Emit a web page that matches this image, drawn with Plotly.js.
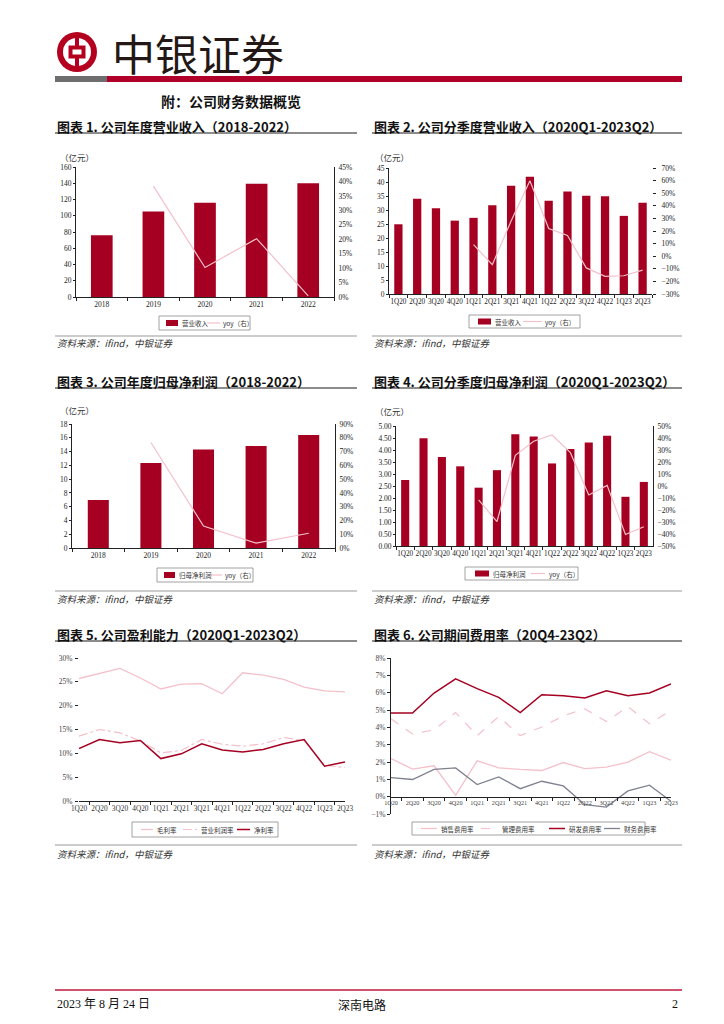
<!DOCTYPE html>
<html><head><meta charset="utf-8">
<script src="https://cdn.plot.ly/plotly-3.0.1.min.js"></script>
<style>html,body{margin:0;padding:0;background:#fff}#page{width:724px;height:1024px}</style>
</head><body><div id="page"></div>
<script>
// ---------- DATA ----------
const years = ['2018', '2019', '2020', '2021', '2022'];
const annualRevenue = [76.0, 105.2, 116.0, 139.4, 139.9];
const annualRevenueYoY = [null, 38.4, 10.2, 20.2, 0.4];
const annualProfit = [6.98, 12.33, 14.30, 14.81, 16.40];
const annualProfitYoY = [null, 76.6, 16.0, 3.6, 10.7];

const quarters = ['1Q20','2Q20','3Q20','4Q20','1Q21','2Q21','3Q21','4Q21','1Q22','2Q22','3Q22','4Q22','1Q23','2Q23'];
const qRevenue = [24.9, 34.0, 30.6, 26.2, 27.2, 31.7, 38.7, 41.9, 33.3, 36.6, 35.1, 34.9, 27.9, 32.6];
const qRevenueYoY = [null, null, null, null, 9.2, -6.8, 28.0, 59.9, 22.0, 16.5, -9.3, -16.0, -15.5, -11.0];
const qProfit = [2.75, 4.49, 3.71, 3.32, 2.43, 3.16, 4.66, 4.56, 3.44, 4.04, 4.31, 4.59, 2.05, 2.67];
const qProfitYoY = [null, null, null, null, -11.6, -29.6, 25.6, 37.3, 42.5, 27.8, -7.5, 0.5, -40.4, -33.9];

const grossMargin = [25.7, 26.8, 27.8, 25.8, 23.5, 24.5, 24.6, 22.5, 26.9, 26.4, 25.5, 23.9, 23.1, 22.9];
const operatingMargin = [13.6, 15.0, 14.3, 12.6, 10.1, 10.6, 12.9, 11.9, 11.5, 12.0, 13.3, 12.7, 7.5, 7.0];
const netMargin = [11.0, 12.9, 12.2, 12.7, 8.9, 9.9, 12.0, 10.7, 10.3, 10.8, 12.0, 12.9, 7.3, 8.2];

const salesRate = [2.20, 1.59, 1.78, 0.08, 2.07, 1.66, 1.57, 1.51, 1.97, 1.62, 1.70, 1.99, 2.59, 2.10];
const adminRate = [4.49, 3.62, 3.85, 4.85, 3.52, 4.62, 3.52, 4.02, 4.66, 5.07, 4.33, 5.20, 4.20, 4.99];
const rdRate = [4.82, 4.82, 5.98, 6.80, 6.23, 5.73, 4.85, 5.88, 5.82, 5.69, 6.11, 5.82, 5.98, 6.50];
const finRate = [1.10, 0.99, 1.57, 1.66, 0.70, 1.14, 0.46, 0.89, 0.62, -0.46, -0.60, 0.33, 0.66, -0.27];

// ---------- HELPERS ----------
const W = 724, H = 1024;
const px = v => v / W;
const py = v => 1 - v / H;
const domX = (a, b) => [px(a), px(b)];
const domY = (top, bottom) => [py(bottom), py(top)];

const NUM = 'Liberation Serif, Noto Sans CJK SC, serif';
const CJK = 'Noto Sans CJK SC, Liberation Serif, sans-serif';
const BAR = '#A50021';
const PINK = '#F4C0CA';
const GRAY = '#7F8090';
const AX = '#222';

function catAxis(d, anchor, extra) {
  return Object.assign({
    domain: d, anchor: anchor, type: 'category', showline: true, linecolor: AX, linewidth: 1,
    ticks: 'outside', tickson: 'boundaries', ticklen: 3, tickcolor: AX, showgrid: false, zeroline: false,
    tickangle: 0, tickfont: {family: NUM, size: 7.5, color: '#222'}, fixedrange: true
  }, extra || {});
}
function valAxis(d, anchor, range, dtick, extra) {
  return Object.assign({
    domain: d, anchor: anchor, range: range, dtick: dtick, showline: true, linecolor: AX, linewidth: 1,
    ticks: 'outside', ticklen: 2, tickcolor: AX, showgrid: false, zeroline: false,
    tickfont: {family: NUM, size: 7.5, color: '#222'}, fixedrange: true
  }, extra || {});
}

// ---------- TRACES ----------
const tr = {
  rev: {type: 'bar', x: years, y: annualRevenue, xaxis: 'x', yaxis: 'y', name: '营业收入', marker: {color: BAR}, width: 0.42},
  revYoY: {type: 'scatter', mode: 'lines', x: years, y: annualRevenueYoY, xaxis: 'x', yaxis: 'y2', name: 'yoy（右）', line: {color: PINK, width: 1.2}},
  qRev: {type: 'bar', x: quarters, y: qRevenue, xaxis: 'x2', yaxis: 'y3', name: '营业收入', marker: {color: BAR}, width: 0.44},
  qRevYoY: {type: 'scatter', mode: 'lines', x: quarters, y: qRevenueYoY, xaxis: 'x2', yaxis: 'y4', name: 'yoy（右）', line: {color: PINK, width: 1.2}},
  prof: {type: 'bar', x: years, y: annualProfit, xaxis: 'x3', yaxis: 'y5', name: '归母净利润', marker: {color: BAR}, width: 0.4},
  profYoY: {type: 'scatter', mode: 'lines', x: years, y: annualProfitYoY, xaxis: 'x3', yaxis: 'y6', name: 'yoy（右）', line: {color: PINK, width: 1.2}},
  qProf: {type: 'bar', x: quarters, y: qProfit, xaxis: 'x4', yaxis: 'y7', name: '归母净利润', marker: {color: BAR}, width: 0.44},
  qProfYoY: {type: 'scatter', mode: 'lines', x: quarters, y: qProfitYoY, xaxis: 'x4', yaxis: 'y8', name: 'yoy（右）', line: {color: PINK, width: 1.2}},
  gross: {type: 'scatter', mode: 'lines', x: quarters, y: grossMargin, xaxis: 'x5', yaxis: 'y9', name: '毛利率', line: {color: PINK, width: 1.3}},
  oper: {type: 'scatter', mode: 'lines', x: quarters, y: operatingMargin, xaxis: 'x5', yaxis: 'y9', name: '营业利润率', line: {color: PINK, width: 1.2, dash: 'dashdot'}},
  net: {type: 'scatter', mode: 'lines', x: quarters, y: netMargin, xaxis: 'x5', yaxis: 'y9', name: '净利率', line: {color: BAR, width: 1.5}},
  sales: {type: 'scatter', mode: 'lines', x: quarters, y: salesRate, xaxis: 'x6', yaxis: 'y10', name: '销售费用率', line: {color: PINK, width: 1.3}},
  admin: {type: 'scatter', mode: 'lines', x: quarters, y: adminRate, xaxis: 'x6', yaxis: 'y10', name: '管理费用率', line: {color: PINK, width: 1.2, dash: 'dash'}},
  rd: {type: 'scatter', mode: 'lines', x: quarters, y: rdRate, xaxis: 'x6', yaxis: 'y10', name: '研发费用率', line: {color: BAR, width: 1.5}},
  fin: {type: 'scatter', mode: 'lines', x: quarters, y: finRate, xaxis: 'x6', yaxis: 'y10', name: '财务费用率', line: {color: GRAY, width: 1.3}}
};
const traces = Object.values(tr);

// ---------- LAYOUT ----------
const d6y = domY(658, 814);
const r6 = [-1, 8];
const zeroPos6 = d6y[0] + (0 - r6[0]) / (r6[1] - r6[0]) * (d6y[1] - d6y[0]);
const qFont = {family: NUM, size: 7.2, color: '#222'};

const layout = {
  width: W, height: H, margin: {l: 0, r: 0, t: 0, b: 0},
  paper_bgcolor: '#fff', plot_bgcolor: 'rgba(0,0,0,0)',
  showlegend: false, hovermode: false,
  font: {family: CJK, color: '#222'},

  // Chart 1
  xaxis: catAxis(domX(76, 334), 'y'),
  yaxis: valAxis(domY(167, 297), 'x', [0, 160], 20),
  yaxis2: valAxis(domY(167, 297), 'x', [0, 45], 5, {overlaying: 'y', side: 'right', ticksuffix: '%', ticklen: 0, ticklabelstandoff: 2}),
  // Chart 2
  xaxis2: catAxis(domX(389, 652), 'y3', {tickfont: qFont}),
  yaxis3: valAxis(domY(168, 294), 'x2', [0, 45], 5),
  yaxis4: valAxis(domY(168, 294), 'x2', [-30, 70], 10, {overlaying: 'y3', side: 'right', ticksuffix: '%', showline: false, ticklen: 3, ticklabelstandoff: 4}),
  // Chart 3
  xaxis3: catAxis(domX(72, 335), 'y5'),
  yaxis5: valAxis(domY(424, 548), 'x3', [0, 18], 2),
  yaxis6: valAxis(domY(424, 548), 'x3', [0, 90], 10, {overlaying: 'y5', side: 'right', ticksuffix: '%', ticklen: 0, ticklabelstandoff: 2}),
  // Chart 4
  xaxis4: catAxis(domX(396, 653), 'y7', {tickfont: qFont}),
  yaxis7: valAxis(domY(426, 546), 'x4', [0, 5], 0.5, {tickformat: '.2f'}),
  yaxis8: valAxis(domY(426, 546), 'x4', [-50, 50], 10, {overlaying: 'y7', side: 'right', ticksuffix: '%', ticklen: 0, ticklabelstandoff: 2}),
  // Chart 5
  xaxis5: catAxis(domX(79, 345), 'y9', {tickfont: {family: NUM, size: 7.3, color: '#333'}}),
  yaxis9: valAxis(domY(658, 801), 'x5', [0, 30], 5, {ticksuffix: '%', showline: false, ticklen: 3, ticklabelstandoff: 1, tickfont: {family: NUM, size: 7.5, color: '#444'}}),
  // Chart 6
  xaxis6: catAxis(domX(391, 671), 'free', {position: zeroPos6, tickfont: {family: NUM, size: 6.2, color: '#444'}}),
  yaxis10: valAxis(d6y, 'x6', r6, 1, {ticksuffix: '%', ticklen: 3, tickfont: {family: NUM, size: 7.5, color: '#444'}}),

  shapes: [], annotations: []
};

const S = layout.shapes, A = layout.annotations;
function rect(x0, y0, x1, y1, color, extra) {
  S.push(Object.assign({type: 'rect', xref: 'paper', yref: 'paper', x0: px(x0), x1: px(x1), y0: py(y1), y1: py(y0),
    fillcolor: color, line: {width: 0}, layer: 'above'}, extra || {}));
}
function hline(x0, x1, y, color, w, dash) {
  S.push({type: 'line', xref: 'paper', yref: 'paper', x0: px(x0), x1: px(x1), y0: py(y), y1: py(y), line: {color: color, width: w, dash: dash || 'solid'}});
}
function text(x, y, t, size, opts) {
  A.push(Object.assign({xref: 'paper', yref: 'paper', x: px(x), y: py(y), text: t, showarrow: false,
    xanchor: 'left', yanchor: 'middle', font: {family: CJK, size: size, color: '#111'}}, opts || {}));
}
// Legend drawn from the trace objects: [trace, symbolStart, symbolEnd, textX]
function legendBox(x0, y0, x1, y1, entries) {
  S.push({type: 'rect', xref: 'paper', yref: 'paper', x0: px(x0), x1: px(x1), y0: py(y1), y1: py(y0),
    fillcolor: 'rgba(0,0,0,0)', line: {color: '#8A8A8A', width: 0.8}});
  const ym = (y0 + y1) / 2;
  entries.forEach(([t, s0, s1, tx]) => {
    if (t.type === 'bar') rect(s0, ym - 3, s1, ym + 3, t.marker.color);
    else hline(s0, s1, ym, t.line.color, t.line.width, t.line.dash);
    text(tx, ym, t.name, 6.5, {font: {family: CJK, size: 6.5, color: '#333'}});
  });
}

// Header logo
S.push({type: 'circle', xref: 'paper', yref: 'paper', x0: px(57), x1: px(97), y0: py(72), y1: py(32), fillcolor: '#B4001E', line: {width: 0}});
S.push({type: 'circle', xref: 'paper', yref: 'paper', x0: px(63), x1: px(91), y0: py(66), y1: py(38), fillcolor: '#fff', line: {width: 0}});
rect(75, 37, 79, 67, '#B4001E');
rect(68.5, 45.5, 85.5, 58.5, '#B4001E');
rect(72.5, 49.5, 81.5, 54.5, '#fff');
text(110, 52, '中银证券', 43, {font: {family: CJK, size: 43, color: '#231815'}});
rect(55, 76, 107, 82, '#6E6E6E');
rect(107, 76, 682, 82, '#B0002A');

text(159, 101, '<b>附：公司财务数据概览</b>', 14);

// Chart titles
const TS = 13;
text(55, 126, '<b>图表 1. 公司年度营业收入（2018-2022）</b>', TS);
text(372, 126, '<b>图表 2. 公司分季度营业收入（2020Q1-2023Q2）</b>', TS);
text(55, 381, '<b>图表 3. 公司年度归母净利润（2018-2022）</b>', TS);
text(372, 381, '<b>图表 4. 公司分季度归母净利润（2020Q1-2023Q2）</b>', TS);
text(55, 634, '<b>图表 5. 公司盈利能力（2020Q1-2023Q2）</b>', TS);
text(372, 634, '<b>图表 6. 公司期间费用率（20Q4-23Q2）</b>', TS);
[133, 388, 641].forEach(y => { hline(55, 357, y, '#8C8C8C', 2); hline(372, 682, y, '#8C8C8C', 2); });

// Units
const unitFont = {family: CJK, size: 8.5, color: '#333'};
text(58, 157, '（亿元）', 8.5, {font: unitFont});
text(373, 157, '（亿元）', 8.5, {font: unitFont});
text(58, 410, '（亿元）', 8.5, {font: unitFont});
text(373, 411, '（亿元）', 8.5, {font: unitFont});

// Legends
legendBox(159, 316, 250, 330, [[tr.rev, 166, 178, 180], [tr.revYoY, 207, 220, 221]]);
legendBox(469, 315, 580, 328, [[tr.qRev, 478, 491, 493], [tr.qRevYoY, 523, 542, 543]]);
legendBox(157, 568, 253, 582, [[tr.prof, 164, 175, 177], [tr.profYoY, 211, 222, 223]]);
legendBox(465, 567, 578, 580, [[tr.qProf, 475, 489, 491], [tr.qProfYoY, 531, 545, 547]]);
legendBox(132, 822, 278, 837, [[tr.gross, 141, 153, 155], [tr.oper, 183, 197, 199], [tr.net, 237, 250, 252]]);
legendBox(412, 822, 645, 835, [[tr.sales, 421, 437, 439], [tr.admin, 481, 498, 500], [tr.rd, 549, 565, 567], [tr.fin, 604, 620, 622]]);

// Sources
[[336, 343], [591, 599], [845, 854]].forEach(([ly, ty]) => {
  hline(55, 357, ly, '#9A9A9A', 1.2); hline(372, 682, ly, '#9A9A9A', 1.2);
  const sf = {family: CJK, size: 9.5, color: '#333', style: 'italic'};
  text(55, ty, '资料来源：ifind，中银证券', 9.5, {font: sf});
  text(372, ty, '资料来源：ifind，中银证券', 9.5, {font: sf});
});

// Footer
hline(55, 682, 990, '#C0183C', 1.5);
text(55, 1004, '2023 年 8 月 24 日', 12, {font: {family: NUM, size: 12, color: '#111'}});
text(362, 1004, '深南电路', 12, {xanchor: 'center', font: {family: CJK, size: 12, color: '#111'}});
text(680, 1004, '2', 12, {xanchor: 'right', font: {family: NUM, size: 12, color: '#111'}});

Plotly.newPlot('page', traces, layout, {staticPlot: true, displayModeBar: false});
</script>
</body></html>
